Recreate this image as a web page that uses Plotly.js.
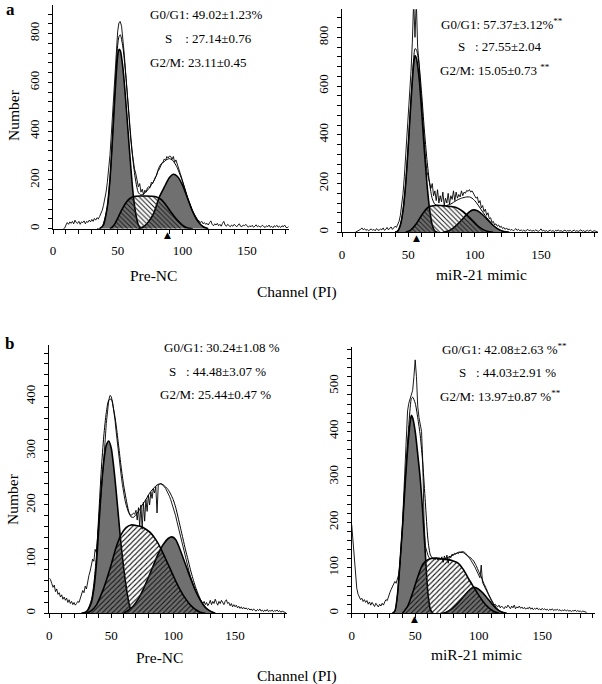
<!DOCTYPE html>
<html><head><meta charset="utf-8">
<script src="https://cdn.plot.ly/plotly-3.0.1.min.js"></script>
<style>html,body{margin:0;padding:0;background:#fff}#chart{width:602px;height:684px}</style>
</head><body><div id="chart"></div>
<script>
// ---------- Panel a, Pre-NC ----------
const aLeftG1Ch = [36,39,42,44,46,48,50,51,52,54,56,58,60,62,64,66,68];
const aLeftG1   = [0,15,90,200,370,560,710,735,730,660,540,400,260,140,60,15,0];
const aLeftSCh  = [44,46,48,50,52,54,56,58,60,62,64,68,72,76,80,84,88,92,96,100,104,108];
const aLeftS    = [0,8,22,42,65,85,103,117,126,131,133,134,134,133,130,118,92,62,35,15,3,0];
const aLeftG2Ch = [66,70,74,78,82,86,90,93,96,100,104,108,112,116,120];
const aLeftG2   = [0,8,30,65,128,170,210,223,215,180,125,70,30,8,0];
const aLeftFitCh = [34,36,38,40,42,44,46,48,50,51,52,54,56,58,60,62,64,66,68,70,72,74,76,78,80,82,84,86,88,90,92,94,96,100,104,108,112,116,120];
const aLeftFit   = [0,0,8,40,90,200,378,582,752,788,795,745,643,517,386,271,193,148,138,142,152,164,180,196,220,252,268,275,284,287,282,269,250,195,128,70,30,8,0];
const aLeftRawStart = 8;
const aLeftRaw = [0,2,15,25,18,28,22,30,20,35,25,22,30,18,28,25,32,20,30,26,35,28,38,30,42,35,45,40,50,
 60,75,95,120,150,190,240,300,380,460,560,650,740,810,845,849,830,780,720,650,570,490,420,370,320,275,245,225,200,172,
 185,150,162,140,158,150,168,172,168,190,185,202,210,218,236,242,256,266,272,286,280,296,290,298,296,284,296,272,282,262,
 250,232,216,200,182,165,145,126,110,95,82,70,60,50,42,35,32,25,30,20,25,18,22,15,25,32,18,12,20,15,22,12,18,10,
 22,30,15,10,18,12,8,15,10,18,12,8,15,20,10,8,15,12,18,10,6,12,8,14,6,10,16,8,12,6,10,14,8,5,12,8,15,6,10,4,12,8,14,6,10,5,12,8,15,6,4,8];

// ---------- Panel a, miR-21 mimic ----------
const aRightG1Ch = [40,42,44,46,48,50,52,54,55,56,58,60,62,64,66,68,70,72];
const aRightG1   = [0,5,30,90,200,360,540,690,725,715,640,500,340,200,95,30,5,0];
const aRightSCh  = [48,52,56,60,64,66,70,74,78,82,86,90,94,98,102,106,110,114];
const aRightS    = [0,10,35,70,98,106,110,110,108,106,102,90,72,50,28,12,3,0];
const aRightG2Ch = [76,80,84,88,92,96,99,102,106,110,114,118,122,126];
const aRightG2   = [0,5,18,38,62,84,92,88,72,50,28,12,3,0];
const aRightFitCh = [40,42,44,46,48,50,52,54,55,56,58,60,62,64,66,68,70,72,74,78,82,86,90,94,96,98,100,102,104,106,108,110,114,118,122,126];
const aRightFit   = [0,5,30,90,200,365,550,712,753,750,692,570,424,298,201,138,115,110,110,109,116,130,140,145,145,140,130,116,100,84,68,53,28,12,3,0];
const aRightRawStart = 10;
const aRightRaw = [0,3,5,8,12,18,10,15,8,12,6,10,14,8,12,6,15,10,8,14,10,18,8,12,20,10,15,22,12,18,25,20,30,
 45,70,110,160,230,310,400,480,560,660,780,950,800,950,760,700,600,520,420,360,300,250,230,210,180,200,150,170,130,175,
 120,150,125,165,110,140,120,160,115,150,135,170,130,165,140,155,145,170,150,165,160,172,168,175,165,170,160,155,140,145,
 120,130,100,110,85,95,70,80,55,60,40,45,30,35,25,30,20,25,15,20,12,18,10,14,8,12,6,10,15,8,12,6,10,5,9,4,8,12,6,10,
 4,8,5,10,6,4,8,14,5,8,4,7,3,6,9,4,7,3,8,5,10,4,7,3,6,9,4,7,5,8,3,6,9,4,7,3,6,10,4,7,3,6,8,4,9,5,3,7,4,2,0];

// ---------- Panel b, Pre-NC ----------
const bLeftG1Ch = [26,30,34,36,38,40,42,44,46,48,50,52,54,56,58,60,62,64,66,68];
const bLeftG1   = [0,3,20,45,90,160,230,280,310,318,305,270,225,175,125,85,50,22,5,0];
const bLeftSCh  = [30,34,38,42,46,50,54,58,62,66,70,74,78,82,86,90,94,98,102,106,110,114,118,122,126];
const bLeftS    = [0,5,15,35,60,90,122,145,158,163,162,160,155,148,136,120,100,80,60,42,27,15,7,2,0];
const bLeftG2Ch = [60,64,68,72,76,80,84,88,92,96,99,102,106,110,114,118,122,126,130,134];
const bLeftG2   = [0,6,14,27,45,66,88,110,127,138,141,136,115,90,65,42,24,11,4,0];
const bLeftFitCh = [26,30,34,36,38,40,42,44,46,48,50,52,54,56,58,60,62,64,66,68,70,72,74,76,78,80,82,84,86,88,90,92,94,96,98,100,102,104,106,108,110,112,114,116,118,120,122,126,130,134];
const bLeftFit   = [0,3,25,55,105,185,265,327,370,393,395,376,347,309,270,237,211,189,178,177,182,188,196,203,210,218,225,230,235,238,239,237,233,228,220,210,196,177,157,137,117,99,80,64,49,37,26,11,4,0];
const bLeftRawStart = 0;
const bLeftRaw = [65,62,55,48,52,40,45,35,38,30,34,26,30,24,28,20,25,18,22,16,20,15,18,22,20,28,35,42,38,50,45,
 62,70,78,92,100,96,118,112,140,170,190,215,245,280,315,350,375,393,402,400,390,375,358,335,312,292,272,255,238,222,
 210,200,192,186,182,181,182,185,183,190,172,195,160,200,155,205,170,210,188,218,200,224,212,230,222,234,185,237,238,239,
 238,236,233,230,226,222,216,210,203,196,188,180,170,160,150,140,130,120,110,100,92,84,76,68,60,54,48,42,36,32,
 28,24,20,18,22,16,20,14,18,24,16,22,18,26,20,15,22,18,24,20,16,22,25,18,20,14,18,12,16,12,15,10,13,9,12,8,11,8,10,7,
 9,6,8,5,8,6,4,7,5,8,4,6,3,6,4,7,3,5,4,6,3,5,4,6,3,5,2,4,3,2,1];

// ---------- Panel b, miR-21 mimic ----------
const bRightG1Ch = [32,34,36,38,40,42,44,46,47,48,50,52,54,56,58,60,62,64];
const bRightG1   = [0,5,40,110,190,280,360,420,435,430,400,350,295,220,130,45,8,0];
const bRightSCh  = [40,44,48,52,56,60,64,68,72,76,80,84,88,92,96,100,104,108,112,116];
const bRightS    = [0,15,45,80,108,118,121,121,119,118,115,110,96,76,58,40,24,12,4,0];
const bRightG2Ch = [70,74,78,82,86,90,94,96,98,102,106,110,114,118,122];
const bRightG2   = [0,2,8,18,30,43,54,57,56,48,36,22,10,3,0];
const bRightFitCh = [32,34,36,38,40,42,44,46,47,48,50,52,54,56,58,60,62,64,68,72,76,80,84,86,88,90,92,94,96,98,100,102,104,106,108,110,112,114,116,118,122];
const bRightFit   = [0,5,40,110,190,287,375,450,472,475,462,430,390,328,244,163,128,121,121,119,123,128,134,134,133,129,125,121,115,105,92,80,66,54,41,30,20,12,6,3,0];
const bRightRawStart = 0;
const bRightRaw = [195,160,115,80,55,42,35,30,33,26,30,24,28,20,25,18,24,20,15,22,18,14,20,16,22,18,25,30,28,40,
 45,52,58,62,70,66,78,85,110,150,195,260,330,400,445,462,470,478,490,520,557,520,455,430,415,400,330,200,148,135,
 128,122,120,122,119,121,118,120,117,122,118,124,112,126,118,128,110,126,122,130,128,132,130,133,131,135,134,136,135,134,
 131,128,124,120,116,112,108,102,96,90,84,78,106,68,62,56,50,44,38,32,26,22,18,20,16,14,18,12,16,14,
 10,15,12,18,14,10,16,12,18,10,14,12,16,11,14,10,13,9,12,10,14,9,12,8,11,9,12,8,10,7,11,8,10,7,9,6,9,7,10,6,
 8,7,9,6,8,5,7,6,8,5,7,5,6,4,6,5,7,4,6,4,5,3,5,4,3,2];

// ---------- texts ----------
const statsALeft  = ['G0/G1: 49.02±1.23%', 'S\u00a0\u00a0\u00a0\u00a0: 27.14±0.76', 'G2/M: 23.11±0.45'];
const statsARight = ['G0/G1: 57.37±3.12%<sup>**</sup>', 'S\u00a0\u00a0\u00a0: 27.55±2.04', 'G2/M: 15.05±0.73 <sup>**</sup>'];
const statsBLeft  = ['G0/G1: 30.24±1.08 %', 'S\u00a0\u00a0\u00a0: 44.48±3.07 %', 'G2/M: 25.44±0.47 %'];
const statsBRight = ['G0/G1: 42.08±2.63 %<sup>**</sup>', 'S\u00a0\u00a0\u00a0: 44.03±2.91 %', 'G2/M: 13.97±0.87 %<sup>**</sup>'];
const groupNames = ['Pre-NC', 'miR-21 mimic'];
const triangleCh = {x: 88.5, x2: 56.3, x4: 49.8};

// ---------- drawing ----------
const W = 602, H = 684;
const px = v => v / W, py = v => 1 - v / H;
const GRAY = '#707070';
const FONT = 'Liberation Serif';

function panelTraces(xa, ya, g1c, g1, g2c, g2, sc, s, fc, f, rawStart, raw, pat, psize) {
  const base = {type: 'scatter', mode: 'lines', xaxis: xa, yaxis: ya, hoverinfo: 'skip', showlegend: false};
  const compLine = {color: '#000', width: 1.6, shape: 'spline', smoothing: 0.7};
  const rawX = raw.map((_, i) => rawStart + i);
  return [
    Object.assign({}, base, {x: g1c, y: g1, fill: 'tozeroy', fillcolor: GRAY, line: compLine}),
    Object.assign({}, base, {x: g2c, y: g2, fill: 'tozeroy', fillcolor: GRAY, line: compLine}),
    Object.assign({}, base, {x: sc, y: s, fill: 'tozeroy', fillcolor: 'rgba(0,0,0,0)',
      fillpattern: {shape: pat, size: psize, solidity: 0.3, fgcolor: '#1a1a1a', bgcolor: 'rgba(0,0,0,0)', fgopacity: 1},
      line: compLine}),
    Object.assign({}, base, {x: fc, y: f, line: {color: '#000', width: 1, shape: 'spline', smoothing: 0.7}}),
    Object.assign({}, base, {x: rawX, y: raw, line: {color: '#000', width: 0.9}})
  ];
}

const traces = [].concat(
  panelTraces('x', 'y', aLeftG1Ch, aLeftG1, aLeftG2Ch, aLeftG2, aLeftSCh, aLeftS, aLeftFitCh, aLeftFit, aLeftRawStart, aLeftRaw, '\\', 3.4),
  panelTraces('x2', 'y2', aRightG1Ch, aRightG1, aRightG2Ch, aRightG2, aRightSCh, aRightS, aRightFitCh, aRightFit, aRightRawStart, aRightRaw, '\\', 3.4),
  panelTraces('x3', 'y3', bLeftG1Ch, bLeftG1, bLeftG2Ch, bLeftG2, bLeftSCh, bLeftS, bLeftFitCh, bLeftFit, bLeftRawStart, bLeftRaw, '/', 3.6),
  panelTraces('x4', 'y4', bRightG1Ch, bRightG1, bRightG2Ch, bRightG2, bRightSCh, bRightS, bRightFitCh, bRightFit, bRightRawStart, bRightRaw, '/', 3.6)
);

const tickFont = {family: FONT, size: 13, color: '#000'};
function xAxis(dom, range, anchor) {
  return {domain: dom, range: range, anchor: anchor, showline: true, linecolor: '#000', linewidth: 1,
    showgrid: false, zeroline: false, ticks: 'outside', ticklen: 4, tickcolor: '#000', tickwidth: 1,
    dtick: 50, tick0: 0, tickfont: tickFont, ticklabelstandoff: 6, fixedrange: true,
    minor: {dtick: 10, tick0: 0, ticks: 'outside', ticklen: 4, tickcolor: '#000', tickwidth: 1, showgrid: false}};
}
function yAxis(dom, range, anchor, dt, mdt) {
  return {domain: dom, range: range, anchor: anchor, showline: true, linecolor: '#000', linewidth: 1,
    showgrid: false, zeroline: false, ticks: 'outside', ticklen: 4, tickcolor: '#000', tickwidth: 1,
    dtick: dt, tick0: 0, tickangle: -90, tickfont: tickFont, ticklabelstandoff: 4, fixedrange: true,
    minor: {dtick: mdt, tick0: 0, ticks: 'outside', ticklen: 4, tickcolor: '#000', tickwidth: 1, showgrid: false}};
}

const ann = [];
function txt(x, y, text, opts) {
  ann.push(Object.assign({xref: 'paper', yref: 'paper', x: px(x), y: py(y), text: text, showarrow: false,
    xanchor: 'left', yanchor: 'middle', font: {family: FONT, size: 13, color: '#000'}}, opts || {}));
}
// stats
txt(148, 15, statsALeft[0]); txt(163, 38, statsALeft[1]); txt(148, 62, statsALeft[2]);
txt(439, 24, statsARight[0]); txt(456, 47, statsARight[1]); txt(438, 70, statsARight[2]);
txt(162, 347, statsBLeft[0]); txt(167, 371, statsBLeft[1]); txt(158, 394, statsBLeft[2]);
txt(440, 349, statsBRight[0]); txt(457, 373, statsBRight[1]); txt(438, 396, statsBRight[2]);
// titles
const titleFont = {family: FONT, size: 15.5, color: '#000'};
txt(153, 275, groupNames[0], {xanchor: 'center', font: titleFont});
txt(481, 274, groupNames[1], {xanchor: 'center', font: titleFont});
txt(297, 292, 'Channel (PI)', {xanchor: 'center', font: titleFont});
txt(159, 657, groupNames[0], {xanchor: 'center', font: titleFont});
txt(476, 654, groupNames[1], {xanchor: 'center', font: titleFont});
txt(297, 676, 'Channel (PI)', {xanchor: 'center', font: titleFont});
txt(13, 115, 'Number', {xanchor: 'center', textangle: -90, font: titleFont});
txt(12, 499, 'Number', {xanchor: 'center', textangle: -90, font: titleFont});
txt(4, 9, '<b>a</b>', {font: {family: FONT, size: 17, color: '#000'}});
txt(3, 343, '<b>b</b>', {font: {family: FONT, size: 17, color: '#000'}});
// G1 mean markers
Object.keys(triangleCh).forEach(k => {
  ann.push({xref: k, yref: 'y' + k.slice(1), x: triangleCh[k], y: 0, text: '▲', showarrow: false,
    xanchor: 'center', yanchor: 'top', yshift: 1, font: {family: 'DejaVu Sans', size: 9, color: '#000'}});
});

const layout = {
  width: W, height: H, margin: {l: 0, r: 0, t: 0, b: 0},
  paper_bgcolor: '#fff', plot_bgcolor: 'rgba(0,0,0,0)', showlegend: false,
  xaxis:  xAxis([px(53), px(289)], [0, 182.4], 'y'),
  yaxis:  yAxis([py(228.7), py(5)], [0, 917], 'x', 200, 40),
  xaxis2: xAxis([px(342), px(598)], [0, 192.9], 'y2'),
  yaxis2: yAxis([py(232.3), py(9.3)], [0, 915], 'x2', 200, 40),
  xaxis3: xAxis([px(49.3), px(286.7)], [0, 191.7], 'y3'),
  yaxis3: yAxis([py(613.3), py(345)], [0, 495], 'x3', 100, 20),
  xaxis4: xAxis([px(351.7), px(595)], [0, 191.6], 'y4'),
  yaxis4: yAxis([py(613.3), py(346.7)], [0, 586], 'x4', 100, 20),
  annotations: ann
};

Plotly.newPlot('chart', traces, layout, {displayModeBar: false, staticPlot: true});
</script>
</body></html>
